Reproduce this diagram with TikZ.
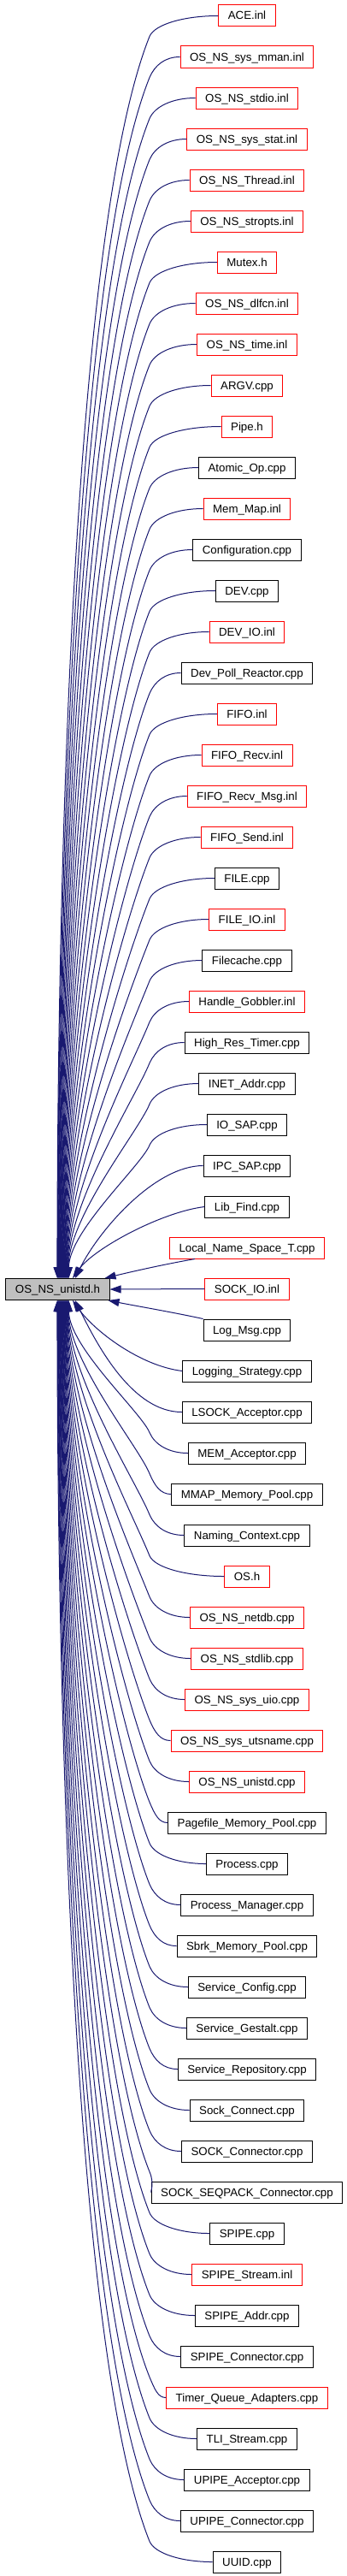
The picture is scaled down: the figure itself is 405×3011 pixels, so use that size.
\documentclass[tikz,border=0pt]{standalone}
\usepackage{fontspec}
\setmainfont{Liberation Sans}
\usetikzlibrary{calc,arrows.meta}
\definecolor{edgec}{HTML}{191970}
\definecolor{mainfill}{HTML}{BFBFBF}
\begin{document}
\begin{tikzpicture}[x=1pt,y=-1pt,
  box/.style={draw, line width=1pt, minimum height=25pt, inner xsep=11pt, inner ysep=0pt,
    font=\fontsize{13.3}{14}\selectfont, text height=10.5pt, text depth=1.5pt},
  edge/.style={draw=edgec, line width=1pt, -{Triangle[length=13pt,width=9pt]}}]
\useasboundingbox (0,0) rectangle (405,3011);
\node[box, fill=mainfill, draw=black, minimum width=121pt] (main) at (67.5,1507) {OS\_NS\_unistd.h};
\foreach \t/\c [count=\i] in {ACE.inl/red, OS\_NS\_sys\_mman.inl/red, OS\_NS\_stdio.inl/red,
  OS\_NS\_sys\_stat.inl/red, OS\_NS\_Thread.inl/red, OS\_NS\_stropts.inl/red, Mutex.h/red,
  OS\_NS\_dlfcn.inl/red, OS\_NS\_time.inl/red, ARGV.cpp/red, Pipe.h/red, Atomic\_Op.cpp/black,
  Mem\_Map.inl/red, Configuration.cpp/black, DEV.cpp/black, DEV\_IO.inl/red,
  Dev\_Poll\_Reactor.cpp/black, FIFO.inl/red, FIFO\_Recv.inl/red, FIFO\_Recv\_Msg.inl/red,
  FIFO\_Send.inl/red, FILE.cpp/black, FILE\_IO.inl/red, Filecache.cpp/black,
  Handle\_Gobbler.inl/red, High\_Res\_Timer.cpp/black, INET\_Addr.cpp/black, IO\_SAP.cpp/black,
  IPC\_SAP.cpp/black, Lib\_Find.cpp/black, Local\_Name\_Space\_T.cpp/red, SOCK\_IO.inl/red,
  Log\_Msg.cpp/black, Logging\_Strategy.cpp/black, LSOCK\_Acceptor.cpp/black,
  MEM\_Acceptor.cpp/black, MMAP\_Memory\_Pool.cpp/black, Naming\_Context.cpp/black, OS.h/red,
  OS\_NS\_netdb.cpp/red, OS\_NS\_stdlib.cpp/red, OS\_NS\_sys\_uio.cpp/red,
  OS\_NS\_sys\_utsname.cpp/red, OS\_NS\_unistd.cpp/red, Pagefile\_Memory\_Pool.cpp/black,
  Process.cpp/black, Process\_Manager.cpp/black, Sbrk\_Memory\_Pool.cpp/black,
  Service\_Config.cpp/black, Service\_Gestalt.cpp/black, Service\_Repository.cpp/black,
  Sock\_Connect.cpp/black, SOCK\_Connector.cpp/black, SOCK\_SEQPACK\_Connector.cpp/black,
  SPIPE.cpp/black, SPIPE\_Stream.inl/red, SPIPE\_Addr.cpp/black, SPIPE\_Connector.cpp/black,
  Timer\_Queue\_Adapters.cpp/red, TLI\_Stream.cpp/black, UPIPE\_Acceptor.cpp/black,
  UPIPE\_Connector.cpp/black, UUID.cpp/black} {
  \node[box, draw=\c] (n\i) at (289, {18.5+(\i-1)*48}) {\t};
}
% edges from the nodes above
\foreach \i in {1,...,28} {
  \pgfmathtruncatemacro\k{32-\i}
  \pgfmathsetmacro\yk{18.5+(\i-1)*48+24}
  \pgfmathsetmacro\D{1495-\yk}
  \pgfmathsetmacro\la{0.15*\D}
  \pgfmathsetmacro\lx{-0.4*\la}
  \pgfmathsetmacro\lb{0.35*\D}
  \pgfmathsetmacro\ex{67+(31-\k)*0.5-6.5}
  \coordinate (k\i) at (175,\yk);
  \coordinate (e\i) at ($(main.north west)+(\ex,0)$);
  \draw[edge] (n\i.west) .. controls ($(n\i.west)!0.5!(k\i|-n\i.west)$) and ($(k\i)+(6,-14)$) .. (k\i)
    .. controls ($(k\i)+(\lx,\la)$) and ($(e\i)+(0,-\lb)$) .. (e\i);
}
\coordinate (e29) at ($(main.north west)+(81.5,0)$);
\draw[edge] (n29.west) .. controls ($(n29.west)+(-57,0)$) and ($(e29)+(27,-55)$) .. (e29);
\coordinate (e30) at ($(main.north west)+(78.5,0)$);
\draw[edge] (n30.west) .. controls ($(n30.west)+(-50,6)$) and ($(e30)+(25,-35)$) .. (e30);
\coordinate (s31) at ($(n31.south west)+(30,0)$);
\coordinate (e31) at ($(main.north east)+(-6,0)$);
\draw[edge] (s31) .. controls ($(s31)+(-40,7)$) and ($(e31)+(25,-6)$) .. (e31);
% straight edge
\draw[edge] (n32.west) -- (main.east);
% edges from the nodes below
\coordinate (s33) at (n33.north west);
\coordinate (e33) at ($(main.south east)+(-2,0)$);
\draw[edge] (s33) .. controls ($(s33)+(-37,-8)$) and ($(e33)+(30,6)$) .. (e33);
\coordinate (e34) at ($(main.south west)+(78.5,0)$);
\draw[edge] (n34.west) .. controls ($(n34.west)+(-50,-6)$) and ($(e34)+(25,35)$) .. (e34);
\coordinate (e35) at ($(main.south west)+(81.5,0)$);
\draw[edge] (n35.west) .. controls ($(n35.west)+(-57,0)$) and ($(e35)+(27,55)$) .. (e35);
\foreach \i in {36,...,63} {
  \pgfmathtruncatemacro\k{\i-32}
  \pgfmathsetmacro\yk{18.5+(\i-1)*48-24}
  \pgfmathsetmacro\D{\yk-1519.5}
  \pgfmathsetmacro\la{0.15*\D}
  \pgfmathsetmacro\lx{-0.4*\la}
  \pgfmathsetmacro\lb{0.35*\D}
  \pgfmathsetmacro\ex{67+(31-\k)*0.5-6.5}
  \coordinate (k\i) at (175,\yk);
  \coordinate (e\i) at ($(main.south west)+(\ex,0)$);
  \draw[edge] (n\i.west) .. controls ($(n\i.west)!0.5!(k\i|-n\i.west)$) and ($(k\i)+(6,14)$) .. (k\i)
    .. controls ($(k\i)+(\lx,-\la)$) and ($(e\i)+(0,\lb)$) .. (e\i);
}
\end{tikzpicture}
\end{document}
